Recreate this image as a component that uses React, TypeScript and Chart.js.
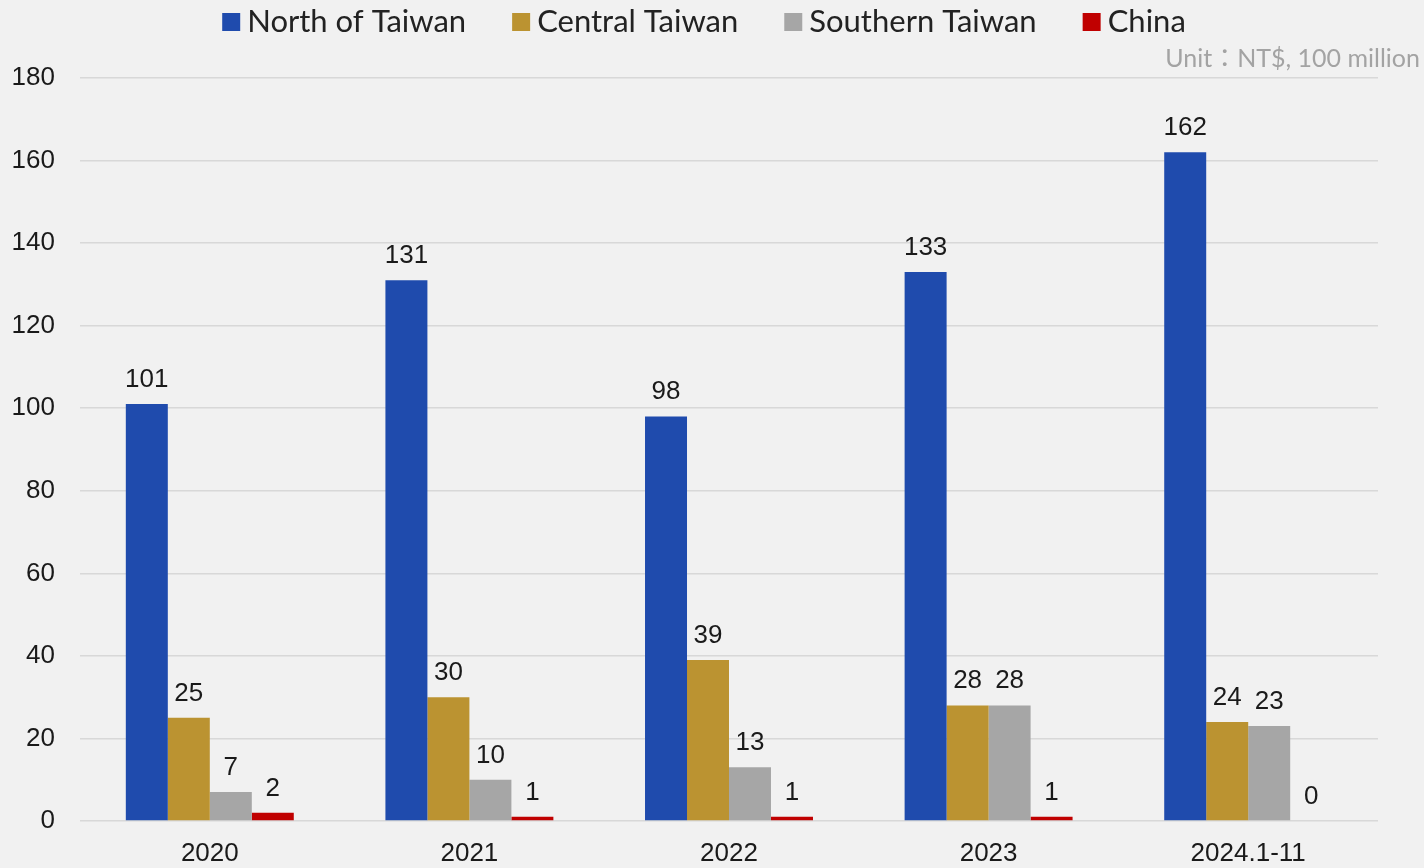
import React, { useEffect, useRef } from "react";
import { Chart, registerables } from "chart.js";

Chart.register(...registerables);

const categories = ["2020", "2021", "2022", "2023", "2024.1-11"];
const northValues = [101, 131, 98, 133, 162];
const centralValues = [25, 30, 39, 28, 24];
const southernValues = [7, 10, 13, 28, 23];
const chinaValues = [2, 1, 1, 1, 0];
const seriesNames = ["North of Taiwan", "Central Taiwan", "Southern Taiwan", "China"];
const seriesColors = ["#1F4BAD", "#BB9331", "#A6A6A6", "#C00000"];
const yMin = 0;
const yMax = 180;
const yStep = 20;
const unitLabel = "Unit：NT$, 100 million";

const NUM_FONT = "'Liberation Sans', Arial, sans-serif";
const TEXT_FONT = "Lato, 'Noto Sans CJK TC', sans-serif";

const backgroundPlugin = {
  id: "bgFill",
  beforeDraw(chart: any) {
    const { ctx, width, height } = chart;
    ctx.save();
    ctx.fillStyle = "#f1f1f1";
    ctx.fillRect(0, 0, width, height);
    ctx.restore();
  },
};

const valueLabelPlugin = {
  id: "valueLabels",
  afterDatasetsDraw(chart: any) {
    const { ctx } = chart;
    ctx.save();
    ctx.font = `26px ${NUM_FONT}`;
    ctx.fillStyle = "#1a1a1a";
    ctx.textAlign = "center";
    ctx.textBaseline = "alphabetic";
    chart.data.datasets.forEach((ds: any, di: number) => {
      const meta = chart.getDatasetMeta(di);
      meta.data.forEach((el: any, i: number) => {
        ctx.fillText(String(ds.data[i]), el.x, el.y - 17);
      });
    });
    ctx.restore();
  },
};

const legendPlugin = {
  id: "customLegend",
  afterDraw(chart: any) {
    const { ctx, width } = chart;
    ctx.save();
    ctx.font = `31px ${TEXT_FONT}`;
    const box = 18;
    const boxGap = 7;
    const itemGap = 46;
    const widths = seriesNames.map((n) => ctx.measureText(n).width);
    const total =
      widths.reduce((a, b) => a + b, 0) + seriesNames.length * (box + boxGap) + (seriesNames.length - 1) * itemGap;
    let x = (width - total) / 2 - 8;
    const baseline = 32;
    seriesNames.forEach((name, i) => {
      ctx.fillStyle = seriesColors[i];
      ctx.fillRect(x, 13, box, box);
      x += box + boxGap;
      ctx.fillStyle = "#222222";
      ctx.textAlign = "left";
      ctx.textBaseline = "alphabetic";
      ctx.fillText(name, x, baseline);
      x += widths[i] + itemGap;
    });
    ctx.restore();
  },
};

const unitPlugin = {
  id: "unitText",
  afterDraw(chart: any) {
    const { ctx, width } = chart;
    ctx.save();
    ctx.font = `25px ${TEXT_FONT}`;
    ctx.fillStyle = "#a3a3a3";
    ctx.textAlign = "right";
    ctx.textBaseline = "alphabetic";
    ctx.fillText(unitLabel, width - 4, 67);
    ctx.restore();
  },
};

export default function App() {
  const canvasRef = useRef<HTMLCanvasElement | null>(null);

  useEffect(() => {
    if (!canvasRef.current) return;
    const seriesValues = [northValues, centralValues, southernValues, chinaValues];
    const chart = new Chart(canvasRef.current, {
      type: "bar",
      data: {
        labels: categories,
        datasets: seriesNames.map((name, i) => ({
          label: name,
          data: seriesValues[i],
          backgroundColor: seriesColors[i],
          borderWidth: 0,
          categoryPercentage: 0.647,
          barPercentage: 1,
        })),
      },
      options: {
        responsive: false,
        animation: false,
        devicePixelRatio: 1,
        layout: { padding: { top: 78, left: 0, right: 46, bottom: 0 } },
        plugins: {
          legend: { display: false },
          tooltip: { enabled: false },
          title: { display: false },
        },
        scales: {
          x: {
            grid: { display: false, drawTicks: false },
            border: { display: false },
            ticks: {
              color: "#1a1a1a",
              font: { family: NUM_FONT, size: 26 },
              padding: 17,
              maxRotation: 0,
              autoSkip: false,
            },
            afterFit(scale: any) {
              scale.height = 47;
            },
          },
          y: {
            min: yMin,
            max: yMax,
            grid: { color: "#d8d8d8", lineWidth: 1.5, drawTicks: false },
            border: { display: false },
            ticks: {
              stepSize: yStep,
              color: "#1a1a1a",
              font: { family: NUM_FONT, size: 26 },
              padding: 25,
            },
            afterFit(scale: any) {
              scale.width = 80;
            },
          },
        },
      },
      plugins: [backgroundPlugin, valueLabelPlugin, legendPlugin, unitPlugin],
    });
    return () => chart.destroy();
  }, []);

  return (
    <div style={{ position: "absolute", left: 0, top: 0, width: 1424, height: 868, background: "#f1f1f1" }}>
      <canvas ref={canvasRef} width={1424} height={868} style={{ display: "block" }} />
    </div>
  );
}
